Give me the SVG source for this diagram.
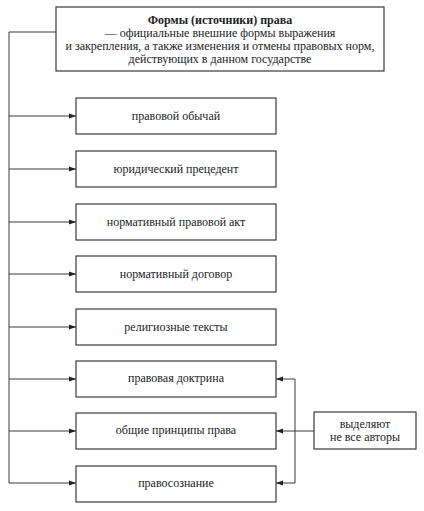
<svg xmlns="http://www.w3.org/2000/svg" width="424" height="511" viewBox="0 0 424 511">
<style>
.box{fill:#fff;stroke:#3a3a3a;stroke-width:1.2}
.ln{fill:none;stroke:#3a3a3a;stroke-width:1}
text{font-family:"Liberation Serif","Times New Roman",serif;font-size:12px;fill:#222;text-anchor:middle}
.b{font-weight:bold}
</style>
<defs>
<marker id="ar" viewBox="0 0 10 10" refX="10" refY="5" markerWidth="7" markerHeight="7" orient="auto" markerUnits="userSpaceOnUse">
<path d="M0,1.5 L10,5 L0,8.5 z" fill="#222"/>
</marker>
</defs>
<rect width="424" height="511" fill="#fff"/>
<g id="connectors">
<path class="ln" d="M56,32 H9 V483"/>
<path class="ln" d="M9,116 H76" marker-end="url(#ar)"/>
<path class="ln" d="M9,169 H76" marker-end="url(#ar)"/>
<path class="ln" d="M9,222 H76" marker-end="url(#ar)"/>
<path class="ln" d="M9,274 H76" marker-end="url(#ar)"/>
<path class="ln" d="M9,327 H76" marker-end="url(#ar)"/>
<path class="ln" d="M9,379 H76" marker-end="url(#ar)"/>
<path class="ln" d="M9,431 H76" marker-end="url(#ar)"/>
<path class="ln" d="M9,483 H76" marker-end="url(#ar)"/>
<path class="ln" d="M314,431 H295"/>
<path class="ln" d="M295,379 V483"/>
<path class="ln" d="M295,379 H276" marker-end="url(#ar)"/>
<path class="ln" d="M295,431 H276" marker-end="url(#ar)"/>
<path class="ln" d="M295,483 H276" marker-end="url(#ar)"/>
</g>
<g id="root">
<rect class="box" x="56" y="7" width="328" height="64"/>
<text x="220" y="24" class="b">Формы (источники) права</text>
<text x="220" y="37">— официальные внешние формы выражения</text>
<text x="220" y="50">и закрепления, а также изменения и отмены правовых норм,</text>
<text x="220" y="63">действующих в данном государстве</text>
</g>
<g id="n1"><rect class="box" x="76" y="98" width="200" height="36"/><text x="176" y="120">правовой обычай</text></g>
<g id="n2"><rect class="box" x="76" y="151" width="200" height="36"/><text x="176" y="173">юридический прецедент</text></g>
<g id="n3"><rect class="box" x="76" y="204" width="200" height="36"/><text x="176" y="226">нормативный правовой акт</text></g>
<g id="n4"><rect class="box" x="76" y="256" width="200" height="36"/><text x="176" y="278">нормативный договор</text></g>
<g id="n5"><rect class="box" x="76" y="309" width="200" height="36"/><text x="176" y="331">религиозные тексты</text></g>
<g id="n6"><rect class="box" x="76" y="361" width="200" height="36"/><text x="176" y="382">правовая доктрина</text></g>
<g id="n7"><rect class="box" x="76" y="413" width="200" height="36"/><text x="176" y="434">общие принципы права</text></g>
<g id="n8"><rect class="box" x="76" y="466" width="200" height="36"/><text x="176" y="487">правосознание</text></g>
<g id="note"><rect class="box" x="314" y="412" width="102" height="37"/><text x="365" y="428">выделяют</text><text x="365" y="441">не все авторы</text></g>
</svg>
